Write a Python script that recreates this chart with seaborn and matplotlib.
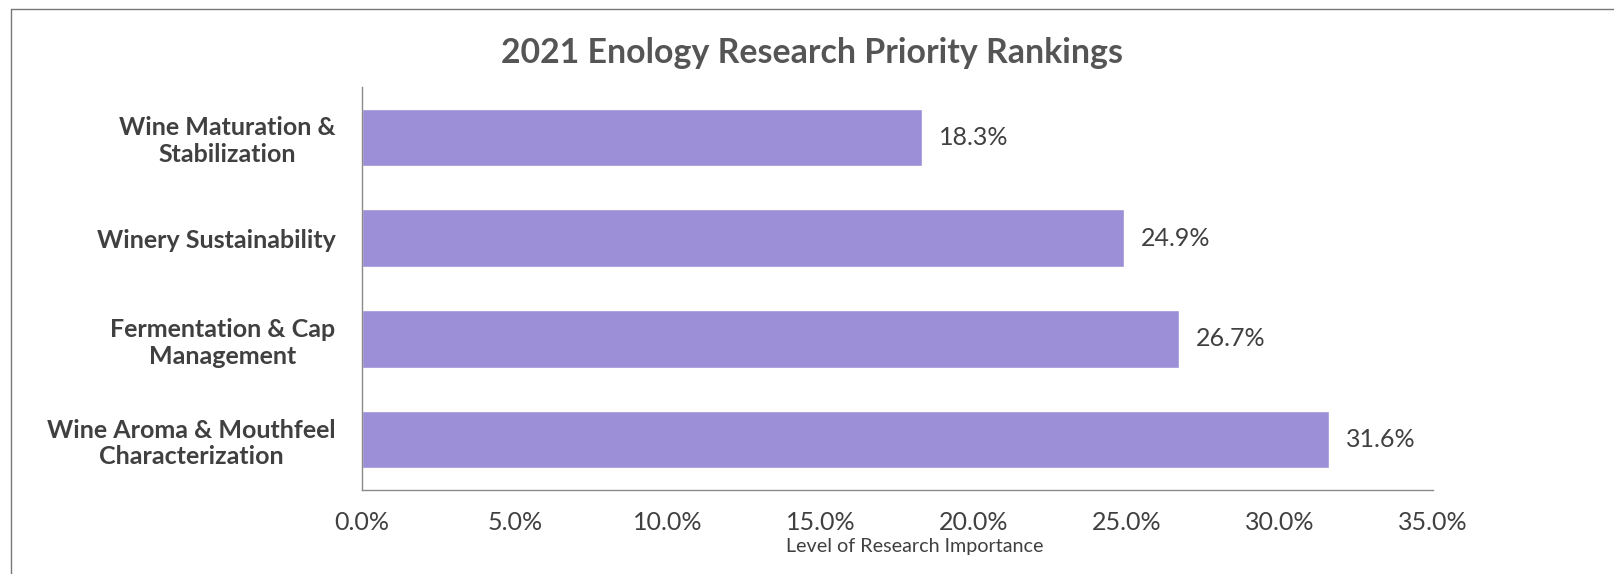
import matplotlib
matplotlib.use("Agg")
import matplotlib.pyplot as plt
import seaborn as sns
from matplotlib.lines import Line2D
from matplotlib.ticker import FuncFormatter, MultipleLocator

# data
categories = [
    "Wine Maturation &\nStabilization",
    "Winery Sustainability",
    "Fermentation & Cap\nManagement",
    "Wine Aroma & Mouthfeel\nCharacterization",
]
importance = [18.3, 24.9, 26.7, 31.6]

sns.set_style("white")
plt.rcParams['font.family'] = ['Lato', 'DejaVu Sans']

txt = '#404040'
bar_col = '#9c8fd7'

fig = plt.figure(figsize=(16.15, 5.74), dpi=100)
ax = fig.add_axes([0.2241, 0.1463, 0.6632, 0.7021])

sns.barplot(x=importance, y=categories, orient='h', color=bar_col,
            width=0.57, saturation=1, ax=ax)

ax.set_xlim(0, 35)
ax.xaxis.set_major_locator(MultipleLocator(5))
ax.xaxis.set_major_formatter(FuncFormatter(lambda v, p: f'{v:.1f}%'))
ax.tick_params(axis='x', length=0, pad=15, labelsize=18, labelcolor=txt)
ax.tick_params(axis='y', length=0, pad=19, labelcolor=txt)
for lab in ax.get_yticklabels():
    lab.set_fontsize(18)
    lab.set_fontweight('bold')
    lab.set_multialignment('center')

for s in ['top', 'right']:
    ax.spines[s].set_visible(False)
for s in ['left', 'bottom']:
    ax.spines[s].set_color('#8a8a8a')
    ax.spines[s].set_linewidth(1.0)

for i, v in enumerate(importance):
    ax.text(v + 0.55, i, f'{v:.1f}%', va='center', ha='left',
            fontsize=18, color=txt)

ax.set_ylabel('')
ax.set_xlabel('Level of Research Importance', fontsize=14.2, color=txt)
ax.xaxis.label.set_va('center')
ax.xaxis.set_label_coords(0.516, -0.139)

fig.text(0.5028, 0.9077, '2021 Enology Research Priority Rankings',
         ha='center', va='center', fontsize=24.4, fontweight='bold',
         color='#555555')

# page frame from the scan
fig.add_artist(Line2D([11 / 1615, 1], [1 - 9 / 574, 1 - 9 / 574],
                      transform=fig.transFigure, color='#777777', lw=1))
fig.add_artist(Line2D([11 / 1615, 11 / 1615], [0, 1 - 9 / 574],
                      transform=fig.transFigure, color='#777777', lw=1))

fig.savefig('out.png', dpi=100)
